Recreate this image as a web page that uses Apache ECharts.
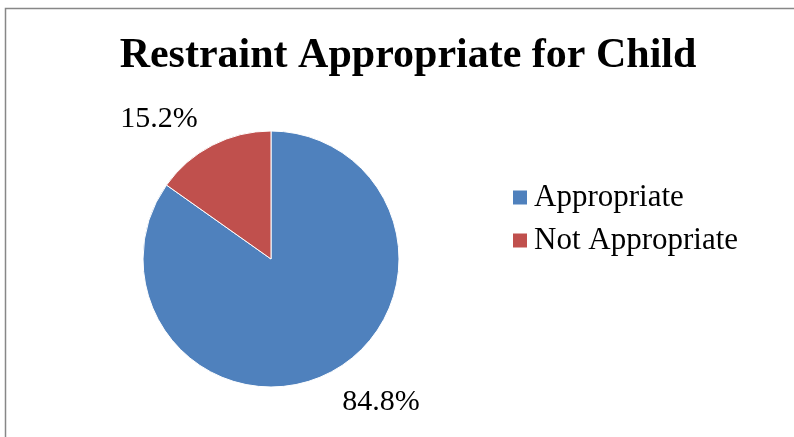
<!DOCTYPE html>
<html><head><meta charset="utf-8">
<script src="https://cdn.jsdelivr.net/npm/echarts@6/dist/echarts.min.js"></script>
<style>html,body{margin:0;padding:0;background:#fff}#c{width:794px;height:437px}</style>
</head><body><div id="c"></div>
<script>
const titleText = "Restraint Appropriate for Child";
const categories = ["Appropriate", "Not Appropriate"];
const values = [84.8, 15.2];
const colors = ["#4F81BD", "#C0504D"];
const labelPos = [[381, 402], [159, 119]];

const chart = echarts.init(document.getElementById('c'));
chart.setOption({
  animation: false,
  backgroundColor: '#fff',
  title: {
    text: titleText, left: 403, top: 30, textAlign: 'center',
    textStyle: { fontFamily: 'Liberation Serif', fontWeight: 'bold', fontSize: 42, color: '#000' }
  },
  legend: {
    orient: 'vertical', left: 506, top: 177, itemWidth: 16, itemHeight: 16, itemGap: 12,
    icon: 'rect',
    data: categories,
    textStyle: { fontFamily: 'Liberation Serif', fontSize: 31, lineHeight: 31, color: '#000', padding: [0, 0, 0, 1] }
  },
  graphic: [{
    type: 'rect', shape: { x: 5.5, y: 8.5, width: 900, height: 600 },
    style: { fill: 'none', stroke: '#878787', lineWidth: 1.5 }, silent: true
  }],
  series: [{
    type: 'pie', center: [271, 259], radius: 128, startAngle: 90, clockwise: true,
    data: categories.map((c, i) => ({ name: c, value: values[i], itemStyle: { color: colors[i] } })),
    itemStyle: { borderColor: '#fff', borderWidth: 1 },
    label: {
      show: true, position: 'outside', formatter: p => p.value.toFixed(1) + '%',
      fontFamily: 'Liberation Serif', fontSize: 30, color: '#000'
    },
    labelLine: { show: false },
    labelLayout: p => ({ x: labelPos[p.dataIndex][0], y: labelPos[p.dataIndex][1], align: 'center', verticalAlign: 'middle' })
  }]
});
</script></body></html>
